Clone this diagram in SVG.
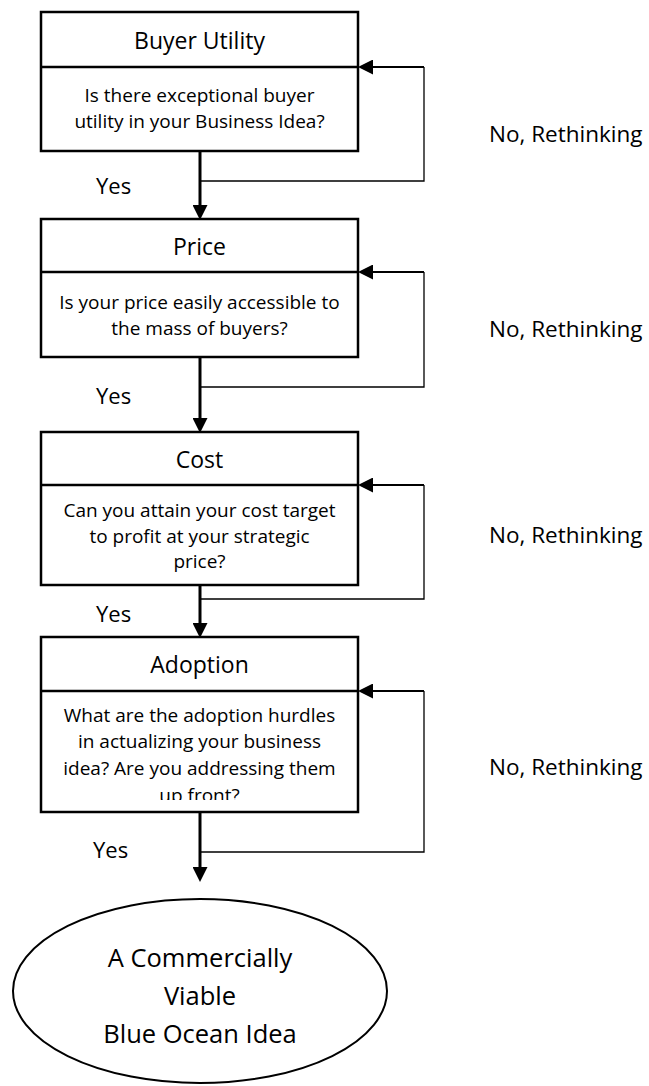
<svg xmlns="http://www.w3.org/2000/svg" width="649" height="1086" viewBox="0 0 649 1086">
<defs>
<style>
.box{fill:#fff;stroke:#000;stroke-width:2.5}
.div{stroke:#000;stroke-width:2.5}
.t{font-family:"Open Sans","Liberation Sans",sans-serif;fill:#000;text-anchor:middle}
.title{font-size:23px}
.body{font-size:19px}
.lbl{font-family:"Open Sans","Liberation Sans",sans-serif;fill:#000;font-size:22.5px}
.yes{font-family:"Open Sans","Liberation Sans",sans-serif;fill:#000;font-size:22px}
.main{fill:none;stroke:#000;stroke-width:3;marker-end:url(#ah)}
.loop{fill:none;stroke:#000;stroke-width:1.3}
.back{fill:none;stroke:#000;stroke-width:2;marker-end:url(#ah)}
</style>
<marker id="ah" markerUnits="userSpaceOnUse" markerWidth="15" markerHeight="15" refX="5" refY="7.5" orient="auto" viewBox="0 0 15 15">
<path d="M0,0 L15,7.5 L0,15 Z" fill="#000"/>
</marker>
<clipPath id="c4"><rect x="41" y="691" width="317" height="109"/></clipPath>
</defs>

<g id="connectors">
<path class="main" d="M200,151 V210"/>
<path class="loop" d="M200,181 H424 V67"/>
<path class="back" d="M424,67 H368"/>
<path class="main" d="M200,357 V423"/>
<path class="loop" d="M200,387 H424 V272"/>
<path class="back" d="M424,272 H368"/>
<path class="main" d="M200,585 V628"/>
<path class="loop" d="M200,599 H424 V485"/>
<path class="back" d="M424,485 H368"/>
<path class="main" d="M200,812 V872"/>
<path class="loop" d="M200,852 H424 V691"/>
<path class="back" d="M424,691 H368"/>
</g>

<g id="labels">
<text class="yes" x="96" y="194">Yes</text>
<text class="yes" x="96" y="404">Yes</text>
<text class="yes" x="96" y="622">Yes</text>
<text class="yes" x="93" y="858">Yes</text>
<text class="lbl" x="489" y="142">No, Rethinking</text>
<text class="lbl" x="489" y="337">No, Rethinking</text>
<text class="lbl" x="489" y="543">No, Rethinking</text>
<text class="lbl" x="489" y="775">No, Rethinking</text>
</g>

<g id="buyer-utility">
<rect class="box" x="41" y="12" width="317" height="139"/>
<line class="div" x1="41" y1="67" x2="358" y2="67"/>
<text class="t title" x="199.5" y="49">Buyer Utility</text>
<text class="t body" x="199.5" y="102">Is there exceptional buyer</text>
<text class="t body" x="199.5" y="128">utility in your Business Idea?</text>
</g>

<g id="price">
<rect class="box" x="41" y="219" width="317" height="138"/>
<line class="div" x1="41" y1="272" x2="358" y2="272"/>
<text class="t title" x="199.5" y="255">Price</text>
<text class="t body" x="199.5" y="309">Is your price easily accessible to</text>
<text class="t body" x="199.5" y="335">the mass of buyers?</text>
</g>

<g id="cost">
<rect class="box" x="41" y="432" width="317" height="153"/>
<line class="div" x1="41" y1="485" x2="358" y2="485"/>
<text class="t title" x="199.5" y="468">Cost</text>
<text class="t body" x="199.5" y="517">Can you attain your cost target</text>
<text class="t body" x="199.5" y="543">to profit at your strategic</text>
<text class="t body" x="199.5" y="568">price?</text>
</g>

<g id="adoption">
<rect class="box" x="41" y="637" width="317" height="175"/>
<line class="div" x1="41" y1="691" x2="358" y2="691"/>
<text class="t title" x="199.5" y="673">Adoption</text>
<g clip-path="url(#c4)">
<text class="t body" x="199.5" y="722">What are the adoption hurdles</text>
<text class="t body" x="199.5" y="748">in actualizing your business</text>
<text class="t body" x="199.5" y="775">idea? Are you addressing them</text>
<text class="t body" x="199.5" y="802">up front?</text>
</g>
</g>

<g id="result">
<ellipse cx="200" cy="991" rx="187" ry="92" fill="#fff" stroke="#000" stroke-width="2"/>
<text class="t" font-size="25.5" x="200" y="967">A Commercially</text>
<text class="t" font-size="25.5" x="200" y="1005">Viable</text>
<text class="t" font-size="25.5" x="200" y="1043">Blue Ocean Idea</text>
</g>
</svg>
